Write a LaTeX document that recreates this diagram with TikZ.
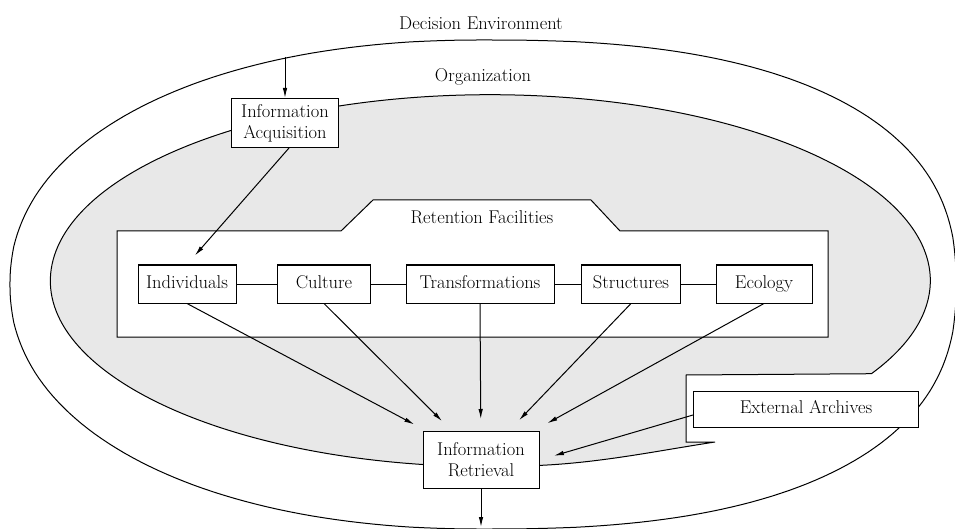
\documentclass[tikz,border=0pt]{standalone}
\usepackage{tikz}
\usetikzlibrary{arrows.meta,positioning}

\tikzset{
  unit/.style={draw, fill=white, line width=1pt, inner sep=0pt, align=center,
    minimum height=38pt, font=\fontsize{18.5}{21}\selectfont},
  oneline/.style={unit, text height=12.5pt, text depth=4pt},
  lbl/.style={inner sep=0pt, font=\fontsize{18.5}{21}\selectfont},
  link/.style={->, line width=1pt, >={Latex[length=10pt,width=4.5pt]}},
  orgfill/.style={fill=black!9, draw, line width=1pt}
}

\begin{document}
\begin{tikzpicture}[x=1pt,y=-1pt]
            \useasboundingbox (0,0) rectangle (955,529);
            % decision environment (slightly squarer on the right)
            \draw[line width=1pt]
              plot[domain=-90:90, samples=121, variable=\t]
                ({483+473*(abs(cos(\t))+0.0001)^0.816},
                 {284.5+(sin(\t)<0 ? -1 : 1)*244.5*(abs(sin(\t))+0.0001)^0.816})
              -- plot[domain=90:270, samples=121, variable=\t]
                ({483-473*(abs(cos(\t))+0.0001)^0.93},
                 {284.5+(sin(\t)<0 ? -1 : 1)*244.5*(abs(sin(\t))+0.0001)^0.93})
              -- cycle;
            % organization
            \path[orgfill] (452,466) arc[start angle=265, end angle=-30, x radius=440pt, y radius=186pt]
              -- (686,375) -- (686,442) -- (715,442)
              .. controls (650,452) and (590,465) .. (520,466) -- cycle;
            % retention facilities
            \draw[fill=white, line width=1pt] (117,231) -- (341,231) -- (373,200) -- (591,200)
              -- (620,231) -- (828,231) -- (828,337) -- (117,337) -- cycle;

            \node[lbl] (envlbl) at (481,23) {Decision Environment};
            \node[lbl] (orglbl) at (483,77) {Organization};
            \node[lbl] (retlbl) at (482,217) {Retention Facilities};

            \node[unit, minimum width=107pt, minimum height=49pt] (acq) at (285,123) {Information\\Acquisition};
            \node[oneline, minimum width=98pt]  (ind) at (187,284) {Individuals};
            \node[oneline, minimum width=93pt]  (cul) at (324,284) {Culture};
            \node[oneline, minimum width=148pt] (tra) at (480,284) {Transformations};
            \node[oneline, minimum width=99pt]  (str) at (631,284) {Structures};
            \node[oneline, minimum width=96pt]  (eco) at (764,284) {Ecology};
            \node[unit, minimum width=116pt, minimum height=57pt] (ret) at (481,460) {Information\\Retrieval};
            \node[oneline, minimum width=225pt, minimum height=36pt] (ext) at (806,409) {External Archives};

            \coordinate (envin) at (285,57);
            \coordinate (envout) at (481,527);

            \draw[line width=1pt] (ind) -- (cul) (cul) -- (tra) (tra) -- (str) (str) -- (eco);
            \draw[link] (envin) -- (acq);
            \draw[link, shorten >=12pt] ([xshift=4pt]acq.south) -- (ind.north);
            \draw[link, shorten >=14pt] (ind.south) -- (ret);
            \draw[link, shorten >=14pt] (cul.south) -- (ret);
            \draw[link, shorten >=12pt] (tra.south) -- (ret);
            \draw[link, shorten >=15pt] (str.south) -- (ret);
            \draw[link, shorten >=16pt] (eco.south) -- (ret);
            \draw[link, shorten >=15pt] ([yshift=-6pt]ext.west) -- (ret.east);
            \draw[link] (ret) -- (envout);
\end{tikzpicture}
\end{document}
